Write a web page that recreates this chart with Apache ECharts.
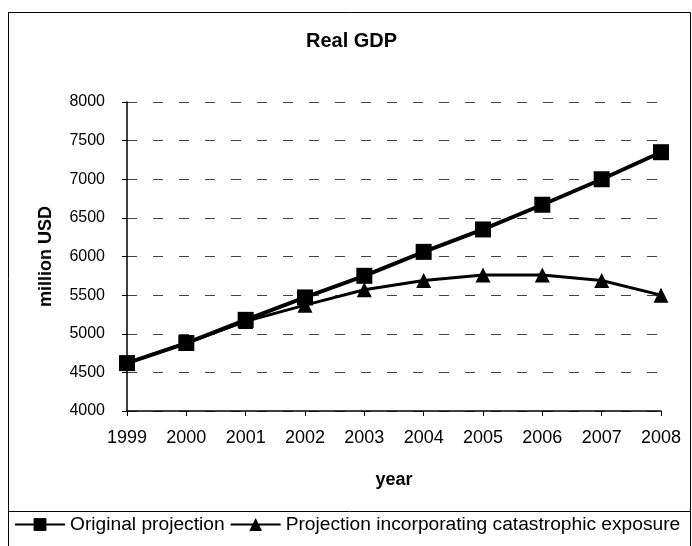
<!DOCTYPE html>
<html><head><meta charset="utf-8">
<script src="https://cdn.jsdelivr.net/npm/echarts@6/dist/echarts.min.js"></script>
<style>html,body{margin:0;padding:0;background:#fff;}#c{width:692px;height:546px;}</style>
</head><body><div id="c"></div>
<script>
const years = ['1999','2000','2001','2002','2003','2004','2005','2006','2007','2008'];
const originalProjection = [4620, 4880, 5180, 5470, 5750, 6060, 6350, 6670, 7000, 7350];
const catastrophicProjection = [4620, 4880, 5160, 5370, 5570, 5690, 5760, 5760, 5690, 5500];
const seriesNames = ['Original projection', 'Projection incorporating catastrophic exposure'];

const chart = echarts.init(document.getElementById('c'), null, {renderer: 'canvas'});
const font = 'Liberation Sans, Arial, sans-serif';
chart.setOption({
  backgroundColor: '#fff',
  animation: false,
  title: {text: 'Real GDP', left: 306, top: 31, padding: 0, textStyle: {fontFamily: font, fontSize: 20, fontWeight: 'bold', color: '#000'}},
  grid: {left: 127, right: 31, top: 102, bottom: 135, containLabel: false},
  xAxis: {
    type: 'category', data: years, boundaryGap: false,
    name: 'year', nameLocation: 'middle', nameGap: 60,
    nameTextStyle: {fontFamily: font, fontSize: 18, fontWeight: 'bold', color: '#000'},
    axisLine: {lineStyle: {color: '#000', width: 1.5}},
    axisTick: {show: true, alignWithLabel: true, length: 5, lineStyle: {color: '#000'}},
    axisLabel: {fontFamily: font, fontSize: 18, color: '#000', margin: 18},
    splitLine: {show: false}
  },
  yAxis: {
    type: 'value', min: 4000, max: 8000, interval: 500,
    name: 'million USD', nameLocation: 'middle', nameGap: 72, nameRotate: 90,
    nameTextStyle: {fontFamily: font, fontSize: 18, fontWeight: 'bold', color: '#000'},
    axisLine: {show: true, lineStyle: {color: '#000', width: 1.5}},
    axisTick: {show: true, length: 5, lineStyle: {color: '#000'}},
    axisLabel: {fontFamily: font, fontSize: 16, color: '#000', margin: 22, formatter: v => String(v)},
    splitLine: {show: true, lineStyle: {color: '#444', width: 1, type: [10, 16]}}
  },
  legend: {
    data: seriesNames, left: 14, top: 515, padding: 0, itemGap: 5, itemWidth: 50, itemHeight: 16,
    textStyle: {fontFamily: font, fontSize: 19.2, color: '#000'}
  },
  graphic: [
    {type: 'rect', shape: {x: 8.5, y: 12.5, width: 682, height: 560}, style: {fill: null, stroke: '#000', lineWidth: 1}, silent: true},
    {type: 'rect', shape: {x: 8.5, y: 511.5, width: 682, height: 60}, style: {fill: null, stroke: '#000', lineWidth: 1}, silent: true}
  ],
  series: [
    {name: seriesNames[0], type: 'line', data: originalProjection, symbol: 'rect', symbolSize: 16,
     lineStyle: {color: '#000', width: 4}, itemStyle: {color: '#000'}, z: 3},
    {name: seriesNames[1], type: 'line', data: catastrophicProjection, symbol: 'triangle', symbolSize: 15,
     lineStyle: {color: '#000', width: 3}, itemStyle: {color: '#000'}, z: 2}
  ]
});
</script></body></html>
